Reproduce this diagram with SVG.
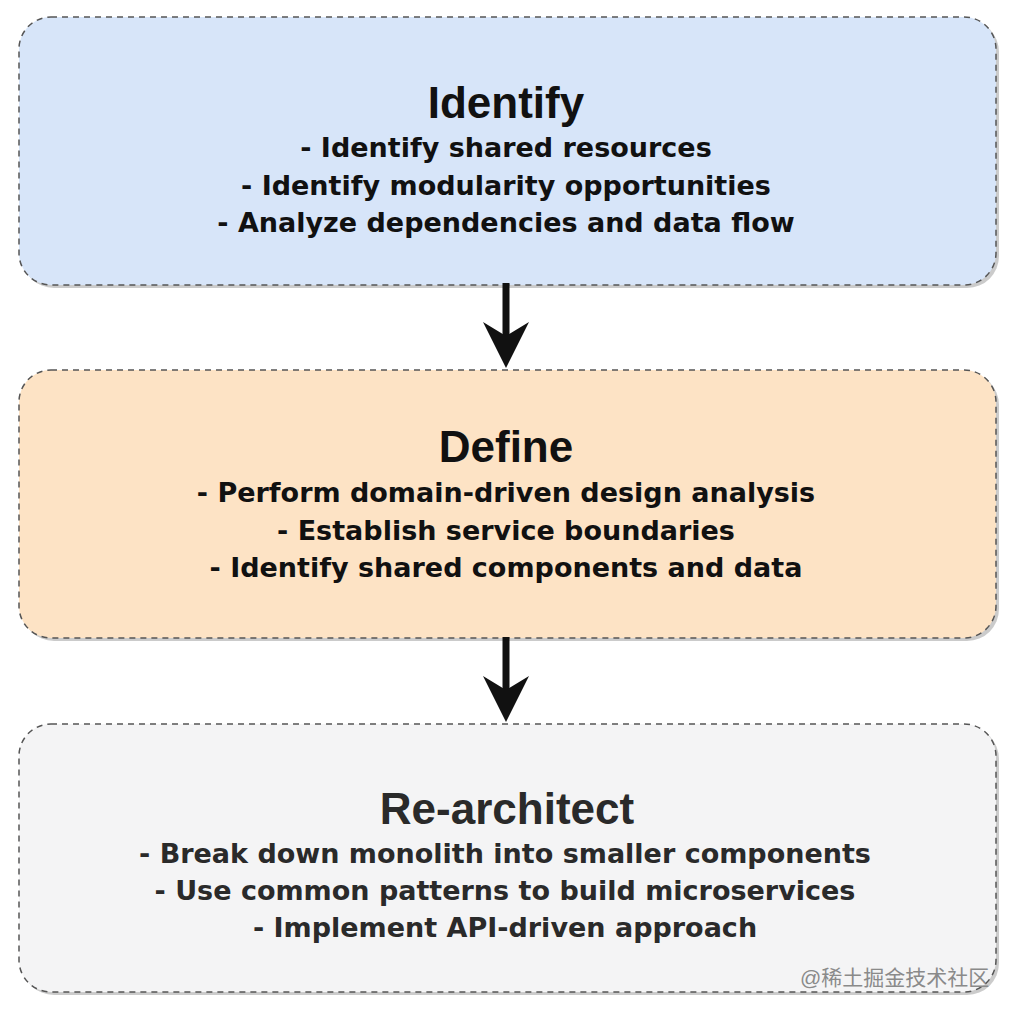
<svg xmlns="http://www.w3.org/2000/svg" width="1018" height="1016" viewBox="0 0 1018 1016">
  <defs>
    <style>
      .box { stroke: #555; stroke-width: 1.5; stroke-dasharray: 6 5; }
      .shadow { fill: #a0a0a0; opacity: 0.55; }
      .title { font-family: "Liberation Sans", Arial, sans-serif; font-weight: bold; font-size: 44px; text-anchor: middle; fill: #111; }
      .body { font-family: "DejaVu Sans", sans-serif; font-weight: bold; font-size: 27px; text-anchor: middle; fill: #111; }
      .t3 { fill: #2a2a2a; }
      .conn { stroke: #111; stroke-width: 7; fill: none; }
      .head { fill: #111; }
      .wm { font-family: "Liberation Sans", "Noto Sans CJK SC", sans-serif; font-size: 21px; fill: #8a8a8a; }
    </style>
  </defs>
  <rect x="0" y="0" width="1018" height="1016" fill="#ffffff"/>

  <g id="node-identify">
    <rect class="shadow" x="22" y="20" width="977" height="268" rx="32"/>
    <rect class="box" x="19" y="17" width="977" height="268" rx="32" fill="#d7e5f9"/>
    <text class="title" x="506" y="118">Identify</text>
    <text class="body" x="506" y="157">- Identify shared resources</text>
    <text class="body" x="506" y="195">- Identify modularity opportunities</text>
    <text class="body" x="506" y="232">- Analyze dependencies and data flow</text>
  </g>

  <g id="node-define">
    <rect class="shadow" x="22" y="373" width="977" height="268" rx="32"/>
    <rect class="box" x="19" y="370" width="977" height="268" rx="32" fill="#fde3c5"/>
    <text class="title" x="506" y="462">Define</text>
    <text class="body" x="506" y="502">- Perform domain-driven design analysis</text>
    <text class="body" x="506" y="540">- Establish service boundaries</text>
    <text class="body" x="506" y="577">- Identify shared components and data</text>
  </g>

  <g id="node-rearchitect">
    <rect class="shadow" x="22" y="727" width="977" height="268" rx="32"/>
    <rect class="box" x="19" y="724" width="977" height="268" rx="32" fill="#f4f4f5"/>
    <text class="title t3" x="507" y="824">Re-architect</text>
    <text class="body t3" x="505" y="863">- Break down monolith into smaller components</text>
    <text class="body t3" x="505" y="900">- Use common patterns to build microservices</text>
    <text class="body t3" x="505" y="937">- Implement API-driven approach</text>
  </g>

  <g id="connectors">
    <line class="conn" x1="506" y1="283" x2="506" y2="340"/>
    <path class="head" d="M506,368 L483,322 L506,336 L529,322 Z"/>
    <line class="conn" x1="506" y1="637" x2="506" y2="694"/>
    <path class="head" d="M506,722 L483,676 L506,690 L529,676 Z"/>
  </g>

  <text class="wm" x="800" y="985">@稀土掘金技术社区</text>
</svg>
